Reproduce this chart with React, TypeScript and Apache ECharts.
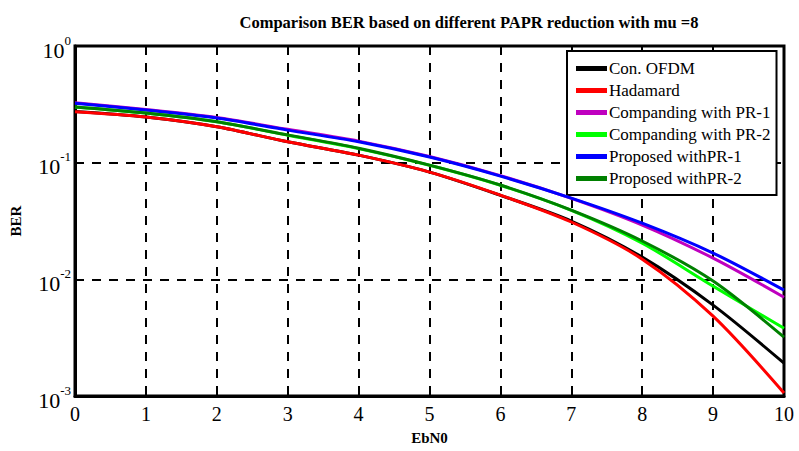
import React, { useEffect, useRef } from "react";
import * as echarts from "echarts";

const ebn0 = [0, 1, 2, 3, 4, 5, 6, 7, 8, 9, 10];
const convOfdm = [0.274, 0.246, 0.203, 0.151, 0.116, 0.083, 0.0525, 0.0316, 0.0155, 0.00601, 0.00191];
const hadamard = [0.273, 0.246, 0.203, 0.151, 0.116, 0.083, 0.0527, 0.031, 0.0149, 0.00483, 0.00106];
const compPR1 = [0.326, 0.286, 0.244, 0.193, 0.153, 0.113, 0.0775, 0.0495, 0.0292, 0.0152, 0.00703];
const compPR2 = [0.3, 0.266, 0.224, 0.172, 0.132, 0.095, 0.064, 0.039, 0.0204, 0.00874, 0.00381];
const propPR1 = [0.323, 0.283, 0.241, 0.19, 0.151, 0.1117, 0.0767, 0.0497, 0.0303, 0.0168, 0.00808];
const propPR2 = [0.3, 0.266, 0.224, 0.173, 0.133, 0.0953, 0.0643, 0.0392, 0.0213, 0.00966, 0.00319];

const seriesNames = [
  "Con. OFDM",
  "Hadamard",
  "Companding with PR-1",
  "Companding with PR-2",
  "Proposed withPR-1",
  "Proposed withPR-2",
];
const seriesColors = ["#000000", "#ff0000", "#bf00bf", "#00ff00", "#0000ff", "#008000"];
const seriesData = [convOfdm, hadamard, compPR1, compPR2, propPR1, propPR2];

const titleText = "Comparison BER based on different PAPR reduction with mu =8";
const xName = "EbN0";
const yName = "BER";

const FONT = "'Liberation Serif', 'Times New Roman', serif";

export default function App() {
  const ref = useRef<HTMLDivElement>(null);
  useEffect(() => {
    if (!ref.current) return;
    const chart = echarts.init(ref.current, undefined, { renderer: "svg" });
    chart.setOption({
      animation: false,
      backgroundColor: "#ffffff",
      title: {
        text: titleText,
        left: 464,
        textAlign: "center",
        top: 9,
        textStyle: { fontFamily: FONT, fontSize: 16.5, fontWeight: "bold", color: "#000" },
      },
      grid: {
        left: 75,
        right: 15,
        top: 46,
        bottom: 55,
        show: true,
        borderColor: "#000",
        borderWidth: 3,
        backgroundColor: "#fff",
      },
      legend: {
        orient: "vertical",
        left: 567,
        top: 51,
        width: 216,
        padding: [9, 6, 8, 9],
        itemGap: 5,
        itemWidth: 31,
        itemHeight: 5,
        icon: "rect",
        backgroundColor: "#fff",
        borderColor: "#000",
        borderWidth: 2,
        data: seriesNames,
        textStyle: { fontFamily: FONT, fontSize: 17, color: "#000", padding: [0, 0, 0, -3] },
      },
      xAxis: {
        type: "value",
        min: 0,
        max: 10,
        interval: 1,
        name: xName,
        nameLocation: "middle",
        nameGap: 34,
        nameTextStyle: { fontFamily: FONT, fontSize: 15, fontWeight: "bold", color: "#000" },
        axisLine: { show: true, lineStyle: { color: "#000", width: 3 } },
        axisTick: { show: true, inside: true, length: 7, lineStyle: { color: "#000", width: 2 } },
        axisLabel: { fontFamily: FONT, fontSize: 20, color: "#000", margin: 8 },
        splitLine: { show: true, lineStyle: { color: "#000", type: [9, 8], width: 2 } },
      },
      yAxis: {
        type: "log",
        logBase: 10,
        min: 0.001,
        max: 1,
        name: yName,
        nameLocation: "middle",
        nameGap: 52,
        nameTextStyle: { fontFamily: FONT, fontSize: 15, fontWeight: "bold", color: "#000" },
        axisLine: { show: true, lineStyle: { color: "#000", width: 3 } },
        axisTick: { show: false },
        minorTick: { show: false },
        axisLabel: {
          margin: 4,
          formatter: (v: number) => {
            const e = Math.round(Math.log10(v));
            return "{a|10}{b|" + String(e) + "}";
          },
          rich: {
            a: { fontFamily: FONT, fontSize: 22, color: "#000", padding: [8, 0, 0, 0] },
            b: { fontFamily: FONT, fontSize: 13, color: "#000", padding: [0, 0, 12, 0] },
          },
        },
        splitLine: { show: true, lineStyle: { color: "#000", type: [9, 8], width: 2 } },
      },
      series: seriesNames.map((name, i) => ({
        name,
        type: "line",
        data: ebn0.map((x, j) => [x, seriesData[i][j]]),
        showSymbol: false,
        symbol: "none",
        smooth: 0.3,
        lineStyle: { color: seriesColors[i], width: 3 },
        itemStyle: { color: seriesColors[i] },
        z: 2 + i,
      })),
    });
    return () => chart.dispose();
  }, []);
  return (
    <div
      ref={ref}
      style={{ position: "absolute", left: 0, top: 0, width: 799, height: 451 }}
    />
  );
}
